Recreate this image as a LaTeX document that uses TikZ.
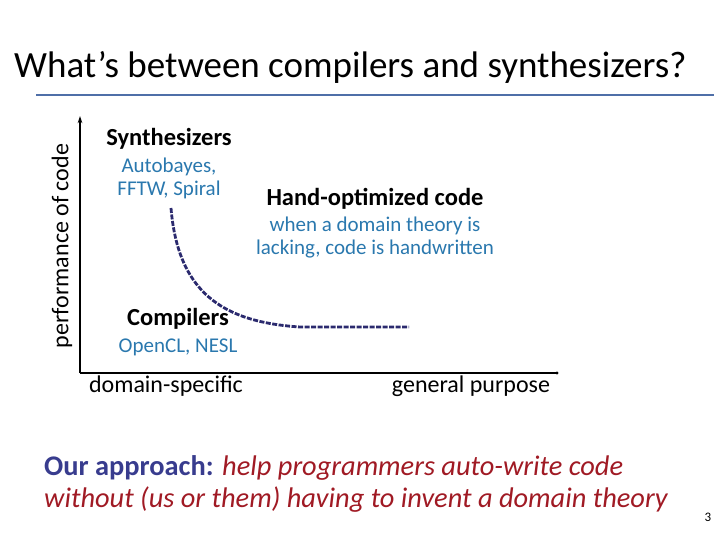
\documentclass[tikz,border=0pt]{standalone}
\usepackage{fontspec}
\setmainfont{Carlito}
\usetikzlibrary{arrows.meta, positioning}
\definecolor{rulblue}{HTML}{4F6FA8}
\definecolor{toolblue}{HTML}{2A78AE}
\definecolor{curvenavy}{HTML}{2B2A6E}
\definecolor{approachnavy}{HTML}{383C8E}
\definecolor{approachred}{HTML}{A01A24}
\begin{document}
\begin{tikzpicture}[x=1pt, y=-1pt,
    head/.style={font=\fontsize{24.5}{26}\selectfont\bfseries, inner sep=0pt},
    tools/.style={font=\fontsize{21}{23}\selectfont, text=toolblue, align=center, inner sep=0pt},
    axislbl/.style={font=\fontsize{24}{26}\selectfont, inner sep=0pt},
    axis/.style={line width=1.2pt},
    curve/.style={curvenavy, line width=2.8pt, dash pattern=on 5pt off 1.5pt}]
  \useasboundingbox (0,0) rectangle (720,540);
  \node[anchor=base west, inner sep=0pt, font=\fontsize{37}{40}\selectfont] (title) at (14,78)
    {What’s between compilers and synthesizers?};
  \draw[rulblue, line width=1.8pt] (36,95) -- (714,95);
  % axes
  \coordinate (orig) at (80,373);
  \coordinate (ytop) at (80,116);
  \coordinate (xend) at (557,373);
  \draw[axis, -{Stealth[length=2.5mm, width=1.6mm]}] (orig) -- (ytop);
  \draw[axis] (orig) -- (xend);
  \fill (xend) circle (1.6pt);
  \node[axislbl, rotate=90] (perf) at (62,246) {performance of code};
  \node[axislbl] (dspec) at (166,386) {domain-specific};
  \node[axislbl] (gpurp) at (471,386) {general purpose};
  % corner points
  \node[head] (synth) at (169,139) {Synthesizers};
  \node[tools, below=8pt of synth] (stools) {Autobayes,\\FFTW, Spiral};
  \node[head] (hand) at (375,199) {Hand-optimized code};
  \node[tools, below=7pt of hand] (htools) {when a domain theory is\\lacking, code is handwritten};
  \node[head] (comp) at (178,319) {Compilers};
  \node[tools, below=9pt of comp] (ctools) {OpenCL, NESL};
  % tradeoff curve
  \coordinate (cstart) at (171,208);
  \coordinate (cend) at (409,327);
  \draw[curve] (cstart) .. controls (178,292) and (222,322) .. (300,327) -- (cend);
  % approach
  \node[anchor=base west, inner sep=0pt, align=left, font=\fontsize{28.4}{32}\selectfont] (approach) at (44,507)
    {\textcolor{approachnavy}{\bfseries Our approach:} \textcolor{approachred}{\itshape help programmers auto-write code}\\
     \textcolor{approachred}{\itshape without (us or them) having to invent a domain theory}};
  \node[font=\fontsize{13}{14}\selectfont, inner sep=0pt] (pageno) at (708,517) {3};
\end{tikzpicture}
\end{document}
